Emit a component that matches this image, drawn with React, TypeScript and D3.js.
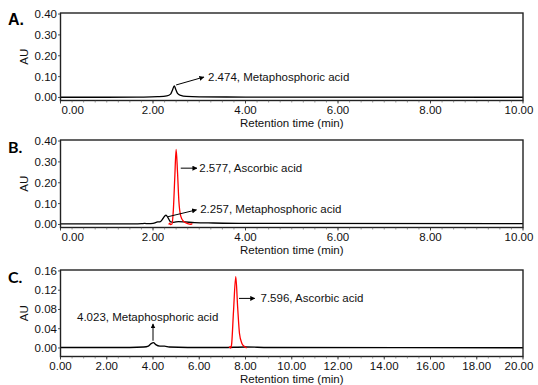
import React from "react";
import * as d3 from "d3";

// ---- Data (retention time [min], absorbance [AU]) ----
const traceA_black: [number, number][] = [
  [0, 0.001], [1.0, 0.001], [1.8, 0.002], [2.1, 0.004], [2.3, 0.008], [2.38, 0.016],
  [2.42, 0.035], [2.46, 0.056], [2.49, 0.04], [2.53, 0.02], [2.6, 0.01], [2.72, 0.005],
  [3.0, 0.003], [4.0, 0.002], [10, 0.001],
];

const traceB_black: [number, number][] = [
  [0, 0.003], [1.6, 0.003], [1.75, 0.004], [1.82, 0.005], [1.9, 0.004], [2.0, 0.005],
  [2.1, 0.012], [2.16, 0.014], [2.22, 0.03], [2.28, 0.045], [2.33, 0.03], [2.38, 0.012],
  [2.45, 0.01], [2.55, 0.014], [2.7, 0.012], [2.9, 0.009], [3.3, 0.007], [4.0, 0.005],
  [10, 0.004],
];

const traceB_red: [number, number][] = [
  [2.34, 0.0], [2.36, 0.006], [2.38, 0.0], [2.41, 0.002], [2.44, 0.07], [2.47, 0.22],
  [2.5, 0.36], [2.53, 0.25], [2.56, 0.11], [2.6, 0.04], [2.66, 0.015], [2.75, 0.004],
  [2.82, 0.001], [2.85, 0.005],
];

const traceC_black: [number, number][] = [
  [0, 0.001], [3.0, 0.001], [3.6, 0.002], [3.8, 0.004], [3.92, 0.009], [4.02, 0.011],
  [4.12, 0.007], [4.3, 0.004], [4.5, 0.004], [4.7, 0.002], [5.5, 0.001], [7.0, 0.001],
  [8.0, 0.002], [9.0, 0.001], [20, 0.0005],
];

const traceC_red: [number, number][] = [
  [7.3, 0.0], [7.33, 0.003], [7.36, 0.0], [7.4, 0.008], [7.48, 0.075], [7.58, 0.148],
  [7.66, 0.085], [7.74, 0.03], [7.84, 0.01], [7.95, 0.003], [8.05, 0.0],
];

const xTicksAB = [0, 2, 4, 6, 8, 10];
const xTicksC = [0, 2, 4, 6, 8, 10, 12, 14, 16, 18, 20];
const yTicksAB = [0, 0.1, 0.2, 0.3, 0.4];
const yTicksC = [0, 0.04, 0.08, 0.12, 0.16];

// annotations: text, arrow tail, arrow head, text anchor point (data coords)
const annotationsA = [
  { text: "2.474, Metaphosphoric acid", from: [2.5, 0.06], to: [3.1, 0.098], at: [3.19, 0.098], anchor: "start" },
];
const annotationsB = [
  { text: "2.577, Ascorbic acid", from: [2.6, 0.27], to: [2.95, 0.27], at: [3.0, 0.27], anchor: "start" },
  { text: "2.257, Metaphosphoric acid", from: [2.32, 0.037], to: [2.94, 0.07], at: [3.02, 0.076], anchor: "start" },
];
const annotationsC = [
  { text: "4.023, Metaphosphoric acid", from: [4.0, 0.015], to: [4.0, 0.05], at: [3.77, 0.064], anchor: "middle" },
  { text: "7.596, Ascorbic acid", from: [7.72, 0.103], to: [8.4, 0.103], at: [8.65, 0.103], anchor: "start" },
];

const FONT = "Liberation Sans, Arial, Helvetica, sans-serif";
const X0 = 60.5;
const X1 = 523;

type Panel = {
  letter: string;
  letterFont: string;
  top: number;
  height: number;
  xMax: number;
  xTicks: number[];
  minorStep: number;
  yTicks: number[];
  yDomain: [number, number];
  traces: { data: [number, number][]; color: string }[];
  annotations: { text: string; from: number[]; to: number[]; at: number[]; anchor: string }[];
  firstLabelStart: boolean;
};

const panels: Panel[] = [
  {
    letter: "A.", letterFont: FONT, top: 13, height: 87.5, xMax: 10, xTicks: xTicksAB, minorStep: 0.25,
    yTicks: yTicksAB, yDomain: [-0.0145, 0.405],
    traces: [{ data: traceA_black, color: "#000" }], annotations: annotationsA, firstLabelStart: true,
  },
  {
    letter: "B.", letterFont: "Lato, Open Sans, sans-serif", top: 140, height: 87.5, xMax: 10, xTicks: xTicksAB, minorStep: 0.25,
    yTicks: yTicksAB, yDomain: [-0.0145, 0.405],
    traces: [{ data: traceB_black, color: "#000" }, { data: traceB_red, color: "#ff0000" }],
    annotations: annotationsB, firstLabelStart: true,
  },
  {
    letter: "C.", letterFont: "Lato, Open Sans, sans-serif", top: 270, height: 86.5, xMax: 20, xTicks: xTicksC, minorStep: 0.5,
    yTicks: yTicksC, yDomain: [-0.0177, 0.162],
    traces: [{ data: traceC_black, color: "#000" }, { data: traceC_red, color: "#ff0000" }],
    annotations: annotationsC, firstLabelStart: false,
  },
];

function PanelView({ p, idx }: { p: Panel; idx: number }) {
  const x = d3.scaleLinear().domain([0, p.xMax]).range([X0, X1]);
  const y = d3.scaleLinear().domain(p.yDomain).range([p.top + p.height, p.top]);
  const line = d3
    .line<[number, number]>()
    .x((d) => x(d[0]))
    .y((d) => y(d[1]))
    .curve(d3.curveMonotoneX);
  const bottom = p.top + p.height;
  const minor = d3.range(0, p.xMax + 1e-9, p.minorStep);
  const clipId = `clip${idx}`;
  const n = p.xTicks.length;
  return (
    <g>
      <defs>
        <clipPath id={clipId}>
          <rect x={X0} y={p.top} width={X1 - X0} height={p.height} />
        </clipPath>
      </defs>
      <g clipPath={`url(#${clipId})`}>
        {p.traces.map((t, i) => (
          <path key={i} d={line(t.data) || ""} fill="none" stroke={t.color} strokeWidth={1.3} />
        ))}
      </g>
      <rect x={X0} y={p.top} width={X1 - X0} height={p.height} fill="none" stroke="#222" strokeWidth={1.4} />
      {minor.map((v, i) => (
        <line key={"m" + i} x1={x(v)} x2={x(v)} y1={bottom} y2={bottom + 2} stroke="#555" strokeWidth={0.6} />
      ))}
      {p.xTicks.map((v, i) => {
        const first = i === 0 && p.firstLabelStart;
        const last = i === n - 1;
        return (
          <g key={"x" + i}>
            <line x1={x(v)} x2={x(v)} y1={bottom} y2={bottom + 3} stroke="#222" strokeWidth={0.8} />
            <text
              x={first ? x(v) + 1 : last ? x(v) - 4 : x(v)}
              y={bottom + 9}
              textAnchor={first ? "start" : "middle"}
              dominantBaseline="central"
              fontSize={11.5}
              fontFamily={FONT}
              fill="#111"
            >
              {v.toFixed(2)}
            </text>
          </g>
        );
      })}
      {p.yTicks.map((v, i) => (
        <g key={"y" + i}>
          <line x1={X0 - 2.5} x2={X0} y1={y(v)} y2={y(v)} stroke="#222" strokeWidth={0.8} />
          <text
            x={57}
            y={y(v)}
            textAnchor="end"
            dominantBaseline="central"
            fontSize={11.5}
            fontFamily={FONT}
            fill="#111"
          >
            {v.toFixed(2)}
          </text>
        </g>
      ))}
      <text
        x={(X0 + X1) / 2}
        y={bottom + 22}
        textAnchor="middle"
        dominantBaseline="central"
        fontSize={11.5}
        fontFamily={FONT}
        fill="#111"
      >
        Retention time (min)
      </text>
      <text
        transform={`translate(24,${p.top + p.height / 2}) rotate(-90)`}
        textAnchor="middle"
        dominantBaseline="central"
        fontSize={11.5}
        fontFamily={FONT}
        fill="#111"
      >
        AU
      </text>
      <text x={8} y={p.top + 6} dominantBaseline="central" fontSize={16} fontWeight="bold" fontFamily={p.letterFont} fill="#000">
        {p.letter}
      </text>
      {p.annotations.map((a, i) => (
        <g key={"a" + i}>
          <line
            x1={x(a.from[0])}
            y1={y(a.from[1])}
            x2={x(a.to[0])}
            y2={y(a.to[1])}
            stroke="#000"
            strokeWidth={1}
            markerEnd="url(#arrowhead)"
          />
          <text
            x={x(a.at[0])}
            y={y(a.at[1])}
            textAnchor={a.anchor as any}
            dominantBaseline="central"
            fontSize={11.5}
            fontFamily={FONT}
            fill="#111"
          >
            {a.text}
          </text>
        </g>
      ))}
    </g>
  );
}

export default function App() {
  return (
    <svg width={538} height={385} style={{ display: "block", position: "absolute", left: 0, top: 0 }}>
      <rect x={0} y={0} width={538} height={385} fill="#fff" />
      <defs>
        <marker id="arrowhead" viewBox="0 0 10 10" refX="9" refY="5" markerWidth="5" markerHeight="5" markerUnits="userSpaceOnUse" orient="auto">
          <path d="M0,0 L10,5 L0,10 z" fill="#000" />
        </marker>
      </defs>
      {panels.map((p, i) => (
        <PanelView key={i} p={p} idx={i} />
      ))}
    </svg>
  );
}
